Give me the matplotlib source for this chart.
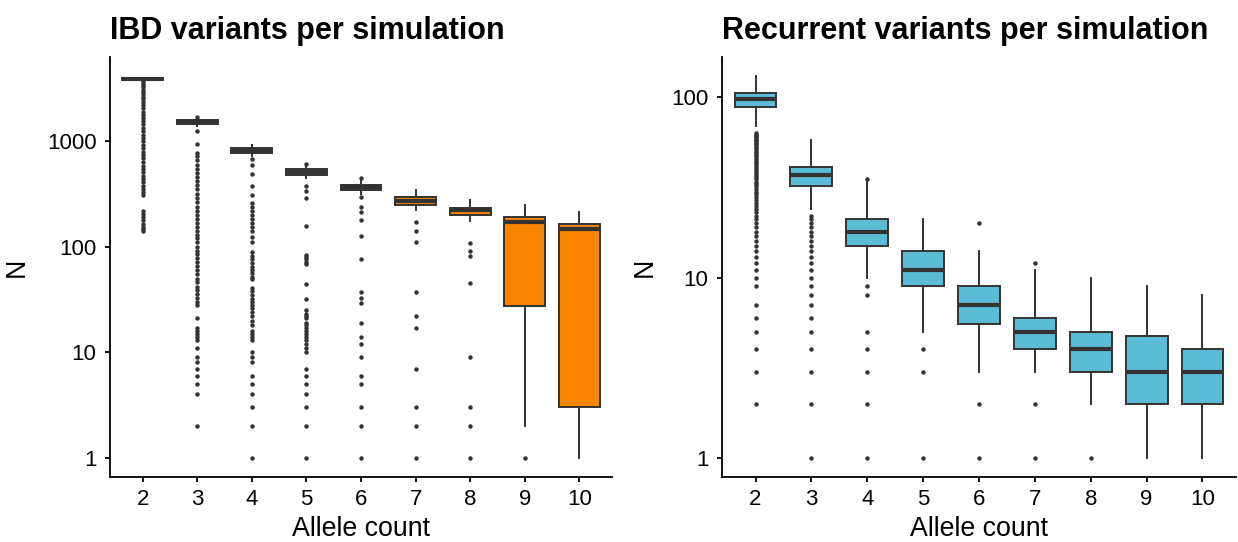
import matplotlib
matplotlib.use('Agg')
import matplotlib.pyplot as plt

plt.rcParams['font.family'] = ['Liberation Sans', 'DejaVu Sans']

allele_counts = ['2', '3', '4', '5', '6', '7', '8', '9', '10']

# IBD variants per simulation (left)
ibd_whislo = [3760, 1400, 720, 450, 320, 223, 175, 2, 1]
ibd_q1 = [3820, 1452, 774, 483, 345, 250, 199, 27.4, 3]
ibd_med = [3890, 1520, 815, 515, 366, 272, 222, 173, 147]
ibd_q3 = [3960, 1600, 857, 547, 389, 295, 235, 191, 163]
ibd_whishi = [4020, 1640, 920, 580, 420, 343, 280, 251, 212]
ibd_fliers = [
    [3700, 3550, 3400, 3250, 3100, 2950, 2800, 2650, 2500, 2350, 2200, 2050, 1900,
     1780, 1660, 1550, 1450, 1350, 1250, 1160, 1080, 1000, 930, 860, 800, 740, 690,
     640, 590, 550, 510, 470, 440, 410, 380, 350, 330, 310,
     220, 205, 190, 178, 166, 155, 146, 140],
    [1690, 1250, 940, 780, 720, 660, 600, 550, 500, 460, 420, 385, 350, 320, 290,
     265, 240, 220, 200, 185, 170, 155, 142, 130, 120, 110, 100, 92, 85, 78, 72,
     66, 60, 55, 50, 46, 42, 39, 36, 33, 30, 28, 21, 17, 16, 15, 14, 13, 11, 9,
     8, 7, 6, 5, 4, 2],
    [675, 600, 495, 375, 312, 260, 240, 220, 200, 185, 170, 155, 141, 125, 110,
     89, 82, 76, 70, 65, 60, 56, 52, 49, 41, 38, 35, 32, 30, 28, 26, 24, 22,
     20, 18, 16, 15, 14, 13, 10, 9, 8, 6, 5, 4, 3, 2, 1],
    [612, 380, 340, 290, 156, 84, 80, 76, 72, 68, 44, 32, 25, 23, 22, 21, 19, 18,
     17, 16, 15, 14, 13, 12, 11, 10, 7, 6, 5, 4, 3, 2, 1],
    [446, 295, 240, 213, 179, 128, 76, 37, 33, 29, 19, 14, 12, 9, 6, 5, 3, 2, 1],
    [171, 140, 110, 37, 22, 17, 7, 3, 2, 1],
    [109, 91, 81, 45, 9, 3, 2, 1],
    [1],
    [],
]

# Recurrent variants per simulation (right)
rec_whislo = [69, 24, 10, 5, 3, 3, 2, 1, 1]
rec_q1 = [88, 32, 15, 9, 5.5, 4, 3, 2, 2]
rec_med = [98, 37, 18, 11, 7, 5, 4, 3, 3]
rec_q3 = [106, 41, 21, 14, 9, 6, 5, 4.75, 4]
rec_whishi = [131, 58, 34, 21, 14, 11, 10, 9, 8]
rec_fliers = [
    [63, 62, 61, 60, 59, 58, 57, 56, 55, 54, 53, 52, 51, 50, 49, 48, 47, 46, 45,
     44, 43, 42, 41, 40, 39, 38, 37, 36, 35, 34, 33, 32, 31, 30, 29, 28, 27, 26,
     25, 24, 23, 22, 21, 20, 19, 18, 17, 16, 15, 14, 13, 12, 11, 10, 9,
     7, 6, 5, 4, 3, 2],
    [22, 21, 20, 19, 18, 17, 16, 15, 14, 13, 12, 11, 10, 9, 8, 7, 6, 5, 4, 3, 2, 1],
    [35, 9, 8, 5, 4, 3, 2, 1],
    [4, 3, 1],
    [20, 2, 1],
    [12, 2, 1],
    [1],
    [],
    [],
]

edge = '#333333'


def draw_panel(ax, whislo, q1, med, q3, whishi, fliers, color, title, ylim, yticks):
    stats = []
    for i in range(len(allele_counts)):
        stats.append({'whislo': whislo[i], 'q1': q1[i], 'med': med[i], 'q3': q3[i],
                      'whishi': whishi[i], 'fliers': fliers[i], 'label': allele_counts[i]})
    ax.set_yscale('log')
    ax.bxp(stats, positions=range(1, len(stats) + 1), widths=0.75, patch_artist=True,
           showcaps=False,
           boxprops=dict(facecolor=color, edgecolor=edge, linewidth=1.4),
           medianprops=dict(color=edge, linewidth=3.0),
           whiskerprops=dict(color=edge, linewidth=1.4),
           flierprops=dict(marker='o', markersize=3.2, markerfacecolor=edge,
                           markeredgecolor='none'))
    ax.set_xlim(0.4, len(stats) + 0.6)
    ax.set_ylim(ylim)
    ax.set_yticks(yticks, labels=[str(t) for t in yticks])
    ax.minorticks_off()
    ax.set_xticks(range(1, len(stats) + 1), labels=allele_counts)
    for s in ['top', 'right']:
        ax.spines[s].set_visible(False)
    for s in ['left', 'bottom']:
        ax.spines[s].set_linewidth(1.3)
        ax.spines[s].set_color('black')
    ax.tick_params(axis='both', length=3.8, width=1.3, color='black',
                   labelsize=16, labelcolor='black', pad=5)
    ax.tick_params(axis='y', pad=6)
    ax.set_xlabel('Allele count', fontsize=19.3, labelpad=4)
    ax.set_ylabel('N', fontsize=19.3)
    ax.set_title(title, loc='left', fontsize=22, fontweight='bold', pad=13)


fig = plt.figure(figsize=(12.38, 5.42), dpi=100)
ax1 = fig.add_axes([110 / 1238, 65 / 542, 502 / 1238, 420 / 542])
ax2 = fig.add_axes([722 / 1238, 65 / 542, 514 / 1238, 420 / 542])

draw_panel(ax1, ibd_whislo, ibd_q1, ibd_med, ibd_q3, ibd_whishi, ibd_fliers,
           '#F98400', 'IBD variants per simulation', (10 ** -0.183, 10 ** 3.80),
           [1, 10, 100, 1000])
draw_panel(ax2, rec_whislo, rec_q1, rec_med, rec_q3, rec_whishi, rec_fliers,
           '#5BBCD6', 'Recurrent variants per simulation', (10 ** -0.106, 10 ** 2.223),
           [1, 10, 100])

ax1.yaxis.set_label_coords(-0.159, 0.5)
ax2.yaxis.set_label_coords(-0.125, 0.5)

fig.savefig('out.png', dpi=100)
